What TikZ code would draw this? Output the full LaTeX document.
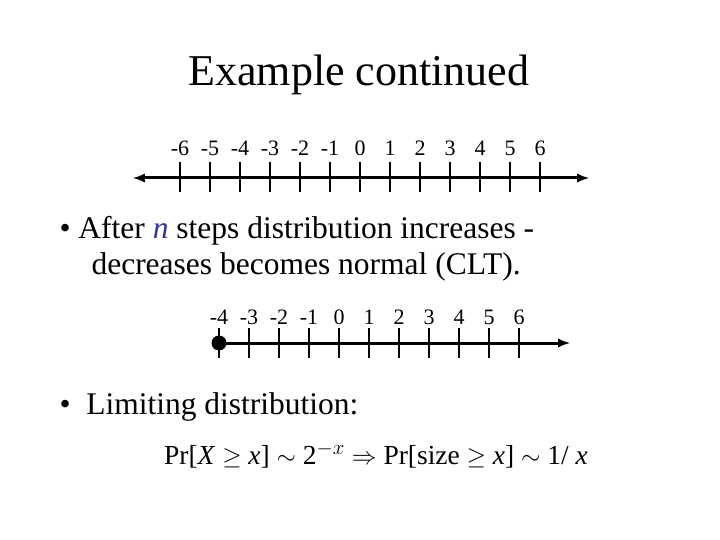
\documentclass[tikz,border=0pt]{standalone}
\usepackage{fontspec}
\setmainfont{Liberation Serif}
\begin{document}
\begin{tikzpicture}[x=1pt,y=-1pt,
  axis/.style={line width=3pt,<->,>={latex}},
  tick/.style={line width=2.5pt},
  num/.style={font=\fontsize{22}{24}\selectfont,anchor=base},
  body/.style={font=\fontsize{31.5}{36}\selectfont,anchor=base west,align=left}]
\useasboundingbox (0,0) rectangle (720,540);
\node[font=\fontsize{44}{48}\selectfont,anchor=base] (title) at (359,86) {Example continued};
% first line
\coordinate (l1a) at (133,178); \coordinate (l1b) at (589,178);
\draw[axis] (l1a) -- (l1b);
\foreach \i [count=\k from 0] in {-6,...,6}{
  \draw[tick] (180+30*\k,162) -- (180+30*\k,192);
  \node[num] (a\k) at (180+30*\k,156) {\i};
}
\node[body] (b1) at (56,238) {\textbullet\ After \textcolor[rgb]{0.2,0.2,0.6}{\textit{n}} steps distribution increases -};
\node[body] (b1b) at (88,274) {decreases becomes normal (CLT).};
% second line
\coordinate (l2a) at (219,343); \coordinate (l2b) at (570,343);
\draw[line width=3pt,->,>={latex}] (l2a) -- (l2b);
\foreach \i [count=\k from 0] in {-4,...,6}{
  \draw[tick] (219+30*\k,328) -- (219+30*\k,358);
  \node[num] (c\k) at (219+30*\k,324) {\i};
}
\fill (l2a) circle (7.5);
\node[body] (b2) at (56,414) {\textbullet\ \ Limiting distribution:};
\node[font=\fontsize{27.5}{30}\selectfont,anchor=base] (f) at (376,464)
 {Pr[\textit{X} $\geq$ \textit{x}] $\sim$ 2$^{-x}$ $\Rightarrow$ Pr[size $\geq$ \textit{x}] $\sim$ 1/ \textit{x}};
\end{tikzpicture}
\end{document}
